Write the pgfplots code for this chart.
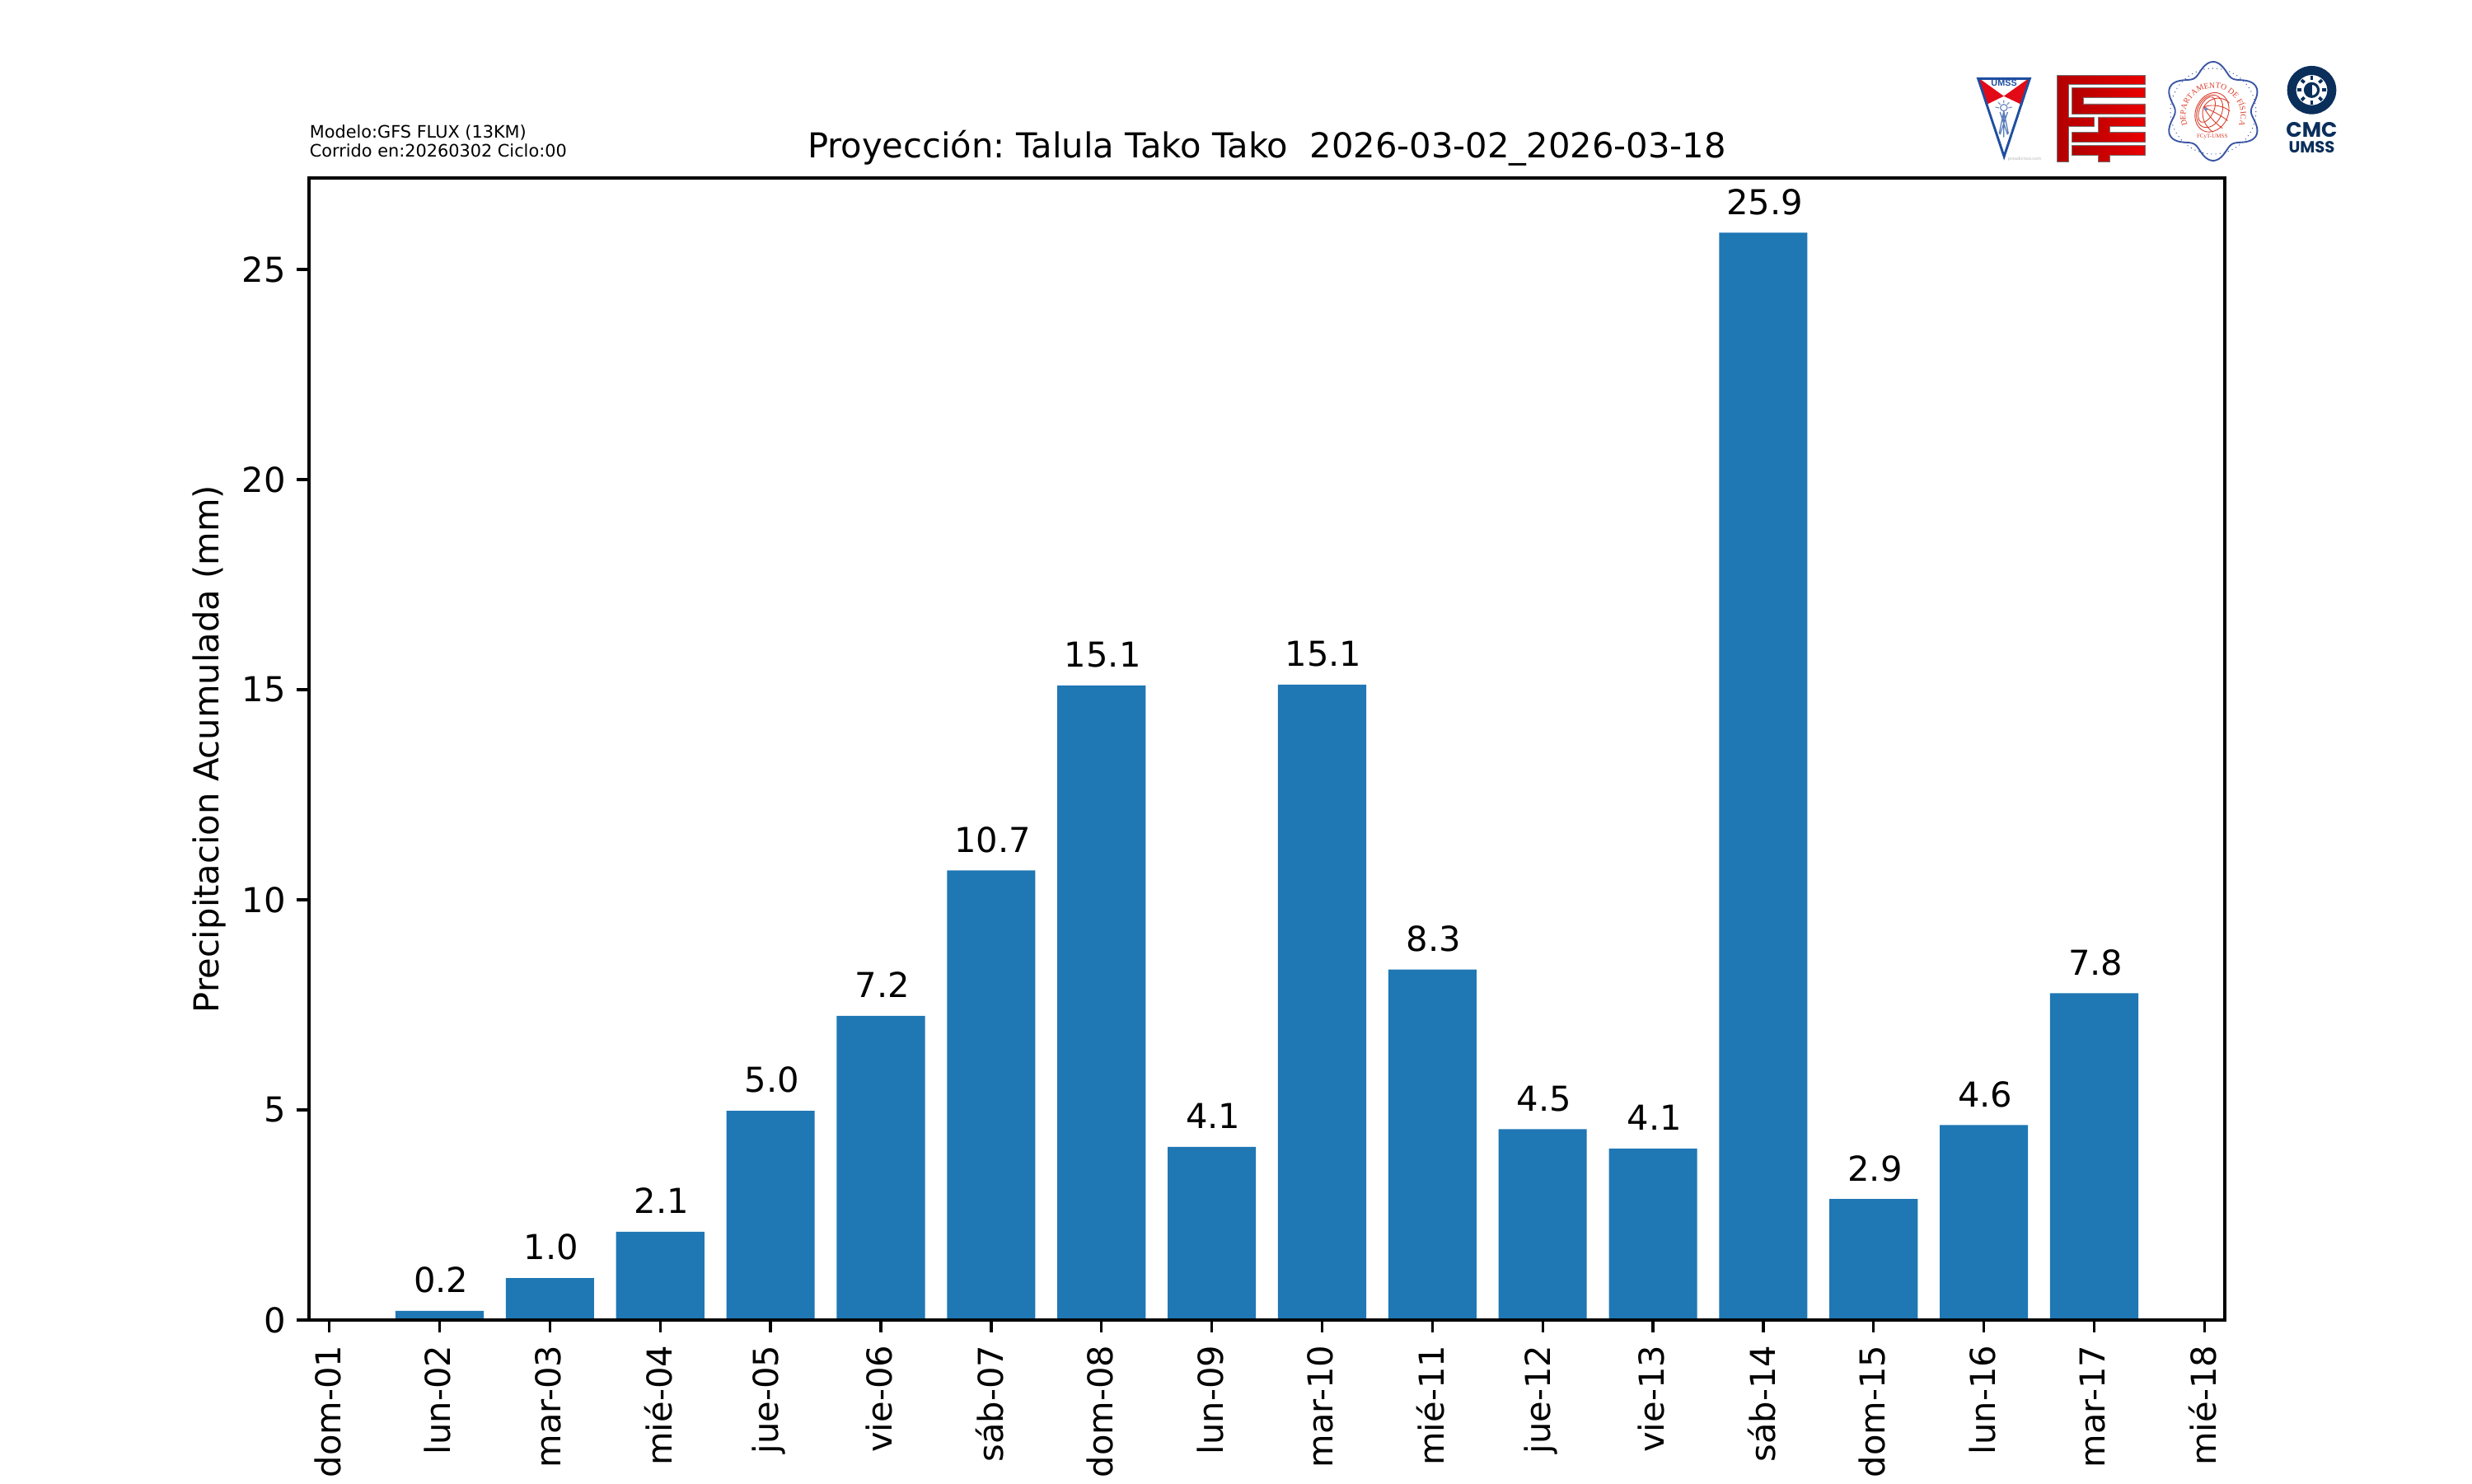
\documentclass[border=0pt]{standalone}
\usepackage{pgfplots}
\pgfplotsset{compat=1.18}
\usepackage{fontspec}
\setmainfont{DejaVu Sans}
\newfontfamily\logofont{Poppins}
\newfontfamily\logoserif{Liberation Serif}
\newfontfamily\logosans{Liberation Sans}
\usetikzlibrary{decorations.text,shadings}
\definecolor{barblue}{HTML}{1F77B4}
\definecolor{umssblue}{HTML}{1F4FA0}
\definecolor{umssred}{HTML}{E30A17}
\definecolor{fisblue}{HTML}{3A55A4}
\definecolor{fisred}{HTML}{D9402E}
\definecolor{navy}{HTML}{0B2F5B}
\begin{document}
\frenchspacing
\begin{tikzpicture}[line cap=butt]
\path[use as bounding box] (0,0) rectangle (10in,6in);
\begin{axis}[
  at={(1.25in,0.66in)}, anchor=south west,
  scale only axis, width=7.75in, height=4.62in,
  xmin=-0.184, xmax=17.184, ymin=0, ymax=27.18,
  ybar, bar width=0.8,
  axis line style={line width=0.8bp,black},
  axis on top,
  tick align=outside, xtick pos=bottom, ytick pos=left,
  major tick length=3.5bp,
  tick style={line width=0.8bp,black},
  xtick={0,1,...,17},
  xticklabels={dom-01,lun-02,mar-03,mié-04,jue-05,vie-06,sáb-07,dom-08,lun-09,mar-10,mié-11,jue-12,vie-13,sáb-14,dom-15,lun-16,mar-17,mié-18},
  ytick={0,5,10,15,20,25},
  /pgf/number format/assume math mode=true,
  tick label style={font=\fontsize{10bp}{12bp}\selectfont},
  xticklabel style={rotate=90, anchor=east, inner sep=0pt, xshift=-3.7bp, yshift=0.5bp},
  yticklabel style={anchor=east, inner sep=0pt, xshift=-3.1bp},
  ylabel={Precipitacion Acumulada (mm)},
  ylabel style={font=\fontsize{10bp}{12bp}\selectfont, yshift=1.2bp},
  nodes near coords,
  nodes near coords align={anchor=base},
  every node near coord/.append style={font=\fontsize{10bp}{12bp}\selectfont, inner sep=0pt, xshift=0.4bp, yshift=5.3bp, text=black,
     /pgf/number format/fixed, /pgf/number format/fixed zerofill, /pgf/number format/precision=1},
  clip=false,
]
\addplot[fill=barblue, draw=none] coordinates {
 (1,0.22) (2,1.0) (3,2.1) (4,4.98) (5,7.24) (6,10.7) (7,15.1) (8,4.12)
 (9,15.12) (10,8.34) (11,4.54) (12,4.08) (13,25.88) (14,2.88) (15,4.64) (16,7.78)};
\end{axis}
% page-pixel coordinates: origin top left
\begin{scope}[shift={(0,6in)},x=1in/300,y=-1in/300]
  \node[anchor=base,inner sep=0pt,font=\fontsize{10bp}{12bp}\selectfont] at (1537.5,191.5) {Proyección: Talula Tako Tako\ \ 2026-03-02\_2026-03-18};
  \node[anchor=base west,inner sep=0pt,font=\fontsize{5bp}{6bp}\selectfont] at (375,168) {Modelo:GFS FLUX (13KM)};
  \node[anchor=base west,inner sep=0pt,font=\fontsize{5bp}{6bp}\selectfont] at (375,190.7) {Corrido en:20260302 Ciclo:00};
\end{scope}
% logos, drawn in crop coordinates
\begin{scope}[shift={(7.83333in,5.83333in)},x=0.08453pt,y=-0.0803pt]
  % UMSS shield
  \fill[umssred] (147,135)--(233,200)--(171,232)--cycle;
  \fill[umssred] (320,135)--(233,200)--(297,232)--cycle;
  \draw[umssblue,line width=0.7pt,line join=miter] (144,136)--(323,136)--(234,420)--cycle;
  \node[text=umssblue,font=\logosans\bfseries\fontsize{2.6bp}{3bp}\selectfont,inner sep=0pt] at (234,152) {UMSS};
  \draw[umssblue!75,line width=0.25pt] (233,242) circle[radius=12];
  \draw[umssblue!75,line width=0.3pt] (233,255)--(217,337) (233,255)--(233,350) (233,255)--(249,337) (220,258)--(246,340) (246,258)--(220,340);
  \draw[umssblue!60,line width=0.3pt] (204,240)--(217,243) (214,223)--(221,231) (233,215)--(233,225) (252,223)--(244,231) (261,240)--(249,243);
  \node[text=black!30,font=\fontsize{1.2bp}{1.5bp}\selectfont,inner sep=0pt] at (305,430) {preadictivo.com};
  % FCyT
  \begin{scope}[draw=black!55,line width=0.2pt,left color=red!70!black,right color=red!92!black]
  \shadedraw (418,124)--(722,124)--(722,158)--(458,158)--(458,278)--(545,278)--(545,310)--(458,310)--(458,440)--(418,440)--cycle;
  \shadedraw (468,170)--(722,170)--(722,206)--(508,206)--(508,228)--(722,228)--(722,264)--(468,264)--cycle;
  \shadedraw (560,276)--(722,276)--(722,310)--(600,310)--(600,332)--(722,332)--(722,366)--(468,366)--(468,332)--(560,332)--cycle;
  \shadedraw (468,379)--(722,379)--(722,415)--(600,415)--(600,440)--(560,440)--(560,415)--(468,415)--cycle;
  \end{scope}
  % Fisica
  \begin{scope}[shift={(957,255)}]
    \draw[fisblue,line width=0.45pt,smooth,samples=144,domain=0:360] plot ({(159+21*cos(6*\x+180))*cos(\x)*0.95},{(159+21*cos(6*\x+180))*sin(\x)});
    \draw[fisblue,line width=0.25pt,densely dotted] (0,0) ellipse[x radius=148,y radius=156];
    \path[postaction={decorate,decoration={text along path,text align=center,
      text={|\logoserif\fontsize{2.35bp}{3bp}\selectfont\color{fisred}|DEPARTAMENTO DE FÍSICA}}}]
      (-84,60) .. controls (-118,-6) and (-72,-84) .. (0,-84) .. controls (72,-84) and (118,-6) .. (84,60);
    \begin{scope}[fisred,line width=0.22pt]
      \draw[rotate around={-25:(-4,4)}] (-4,4) ellipse[x radius=56,y radius=74];
      \draw[rotate around={-25:(-12,0)}] (-12,0) ellipse[x radius=42,y radius=62];
      \draw[rotate around={-25:(-22,-6)}] (-22,-6) ellipse[x radius=24,y radius=50];
      \draw (-33,-15) .. controls (-5,-62) and (40,-50) .. (56,-30);
      \draw (-33,-15) .. controls (0,-30) and (45,-15) .. (58,0);
      \draw (-33,-15) .. controls (0,0) and (35,20) .. (50,35);
      \draw (-33,-15) .. controls (-15,20) and (15,50) .. (32,62);
      \draw (-33,-15) .. controls (-45,20) and (-25,60) .. (0,76);
    \end{scope}
    \fill[fisblue!70] (-25,-8) circle[radius=6];
    \node[text=fisred,font=\logoserif\fontsize{1.7bp}{2bp}\selectfont,inner sep=0pt] at (-3,92) {FCyT-UMSS};
  \end{scope}
  % CMC
  \begin{scope}[shift={(1298,178)}]
    \fill[navy,even odd rule] (0,0) ellipse[x radius=85,y radius=88] (0,0) ellipse[x radius=54,y radius=55];
    \draw[navy,line width=0.75pt] (0,0) ellipse[x radius=23,y radius=24];
    \fill[navy] (0,-24) -- (0,24) .. controls (-30,24) and (-30,-24) .. (0,-24) --cycle;
    \foreach \a in {0,45,...,315}
      \draw[navy,line width=0.9pt] ({36*cos(\a)},{38*sin(\a)})--({50*cos(\a)},{52*sin(\a)});
  \end{scope}
  \node[text=navy,font=\logofont\bfseries\fontsize{6.1bp}{7bp}\selectfont,inner sep=0pt] at (1298,322) {CMC};
  \node[text=navy,font=\logofont\bfseries\fontsize{4.7bp}{6bp}\selectfont,inner sep=0pt] at (1298,386) {UMSS};
\end{scope}
\end{tikzpicture}
\end{document}
